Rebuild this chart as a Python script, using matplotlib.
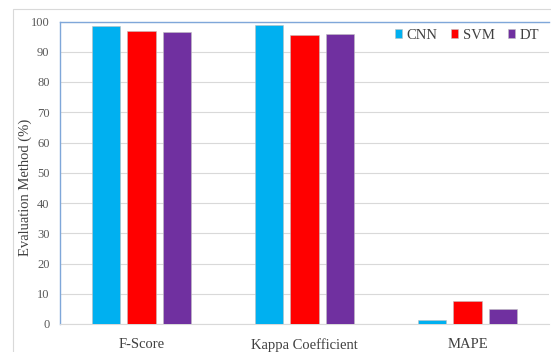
import numpy as np
import matplotlib.pyplot as plt
from matplotlib.patches import Rectangle

categories = ["F-Score", "Kappa Coefficient", "MAPE"]
series_names = ["CNN", "SVM", "DT"]
cnn_values = [98.6, 98.7, 1.3]
svm_values = [96.7, 95.4, 7.5]
dt_values = [96.4, 95.9, 4.9]
y_ticks = [0, 10, 20, 30, 40, 50, 60, 70, 80, 90, 100]

colors = ["#00B0F0", "#FF0000", "#7030A0"]

plt.rcParams["font.family"] = ["Liberation Serif", "DejaVu Serif"]

W, H = 551, 352
fig = plt.figure(figsize=(W / 100, H / 100), dpi=100)

# light outer chart frame
fig.patches.append(Rectangle((13 / W, -0.05), 1.0, (H - 9) / H + 0.05,
                             transform=fig.transFigure, fill=False,
                             edgecolor="#D9D9D9", linewidth=0.8))

ax = fig.add_axes([60 / W, 1 - 324 / H, (549 - 60) / W, (324 - 21.5) / H])

x = np.arange(len(categories))
width = 0.172
step = 0.218
for i, (name, vals) in enumerate(zip(series_names, [cnn_values, svm_values, dt_values])):
    ax.bar(x + (i - 1) * step, vals, width, color=colors[i], label=name,
           edgecolor="#BFBFBF", linewidth=0.4, zorder=3)

ax.set_xlim(-0.5, len(categories) - 0.5)
ax.set_ylim(0, 100)
ax.set_yticks(y_ticks)
ax.set_xticks(x)
ax.set_xticklabels(categories, fontsize=10.5, color="#404040")
ax.tick_params(axis="y", labelsize=9, colors="#595959", length=0, pad=7.5)
ax.tick_params(axis="x", length=0, pad=10)
ax.grid(axis="y", color="#D9D9D9", linewidth=0.8, zorder=0)

for s in ["top", "left"]:
    ax.spines[s].set_color("#7FA7D9")
    ax.spines[s].set_linewidth(1.0)
ax.spines["bottom"].set_color("#D9D9D9")
ax.spines["right"].set_visible(False)

fig.text(25 / W, 1 - 187 / H, "Evaluation Method (%)", rotation=90,
         ha="center", va="center", fontsize=10.5, color="#404040")

leg = ax.legend(loc="upper right", bbox_to_anchor=(1.0, 1.01), ncol=3, frameon=False,
                fontsize=10.5, handlelength=0.5, handleheight=0.5,
                handletextpad=0.3, columnspacing=0.9, borderaxespad=0.3)
for t in leg.get_texts():
    t.set_color("#404040")

fig.savefig("out.png", dpi=100)
